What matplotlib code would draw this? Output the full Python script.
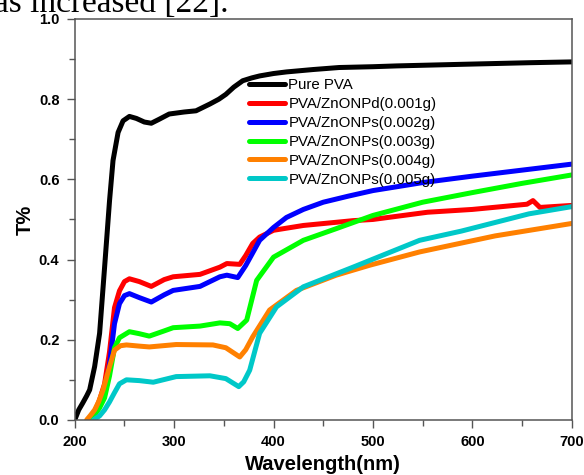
import matplotlib.pyplot as plt
from matplotlib.ticker import MultipleLocator

# values (wavelength nm, transmittance)
wl_pva = [200, 204, 208, 212, 215, 220, 225, 230, 235, 238.5, 243.6, 248.6, 255, 262, 270, 277, 285, 295,
          310, 322, 336, 345, 352, 360, 369, 378, 386, 400, 413, 440, 466, 500, 524, 590, 658, 700]
t_pva = [0.0, 0.025, 0.042, 0.06, 0.075, 0.133, 0.216, 0.38, 0.547, 0.647, 0.717, 0.746, 0.757, 0.752, 0.743,
         0.74, 0.75, 0.763, 0.768, 0.771, 0.788, 0.80, 0.812, 0.83, 0.846, 0.853, 0.858, 0.864, 0.868, 0.874,
         0.879, 0.881, 0.883, 0.887, 0.891, 0.893]

wl_001 = [215, 220, 225, 230, 235, 240, 245, 250, 255, 265, 277, 290, 299, 326, 346, 353, 366, 372, 379, 386,
          400, 430, 480, 500, 555, 600, 655, 661, 668, 700]
t_001 = [0.0, 0.02, 0.05, 0.09, 0.17, 0.28, 0.322, 0.345, 0.352, 0.345, 0.333, 0.35, 0.357, 0.363, 0.381,
         0.39, 0.388, 0.41, 0.44, 0.456, 0.473, 0.485, 0.497, 0.50, 0.518, 0.525, 0.538, 0.547, 0.53, 0.535]

wl_002 = [216, 220, 225, 230, 235, 240, 245, 250, 255, 265, 277, 290, 299, 326, 346, 353, 364, 372, 386, 400,
          413, 430, 450, 475, 500, 550, 600, 650, 700]
t_002 = [0.0, 0.015, 0.04, 0.065, 0.14, 0.24, 0.29, 0.31, 0.315, 0.305, 0.294, 0.312, 0.323, 0.333, 0.357,
         0.361, 0.355, 0.385, 0.448, 0.48, 0.505, 0.525, 0.543, 0.558, 0.572, 0.592, 0.608, 0.623, 0.638]

wl_003 = [216, 220, 225, 230, 235, 240, 245, 255, 265, 275, 290, 299, 326, 346, 356, 364, 373, 383, 400, 430,
          463, 500, 550, 600, 650, 700]
t_003 = [0.0, 0.012, 0.03, 0.055, 0.11, 0.18, 0.205, 0.22, 0.215, 0.209, 0.222, 0.23, 0.234, 0.242, 0.24,
         0.228, 0.249, 0.348, 0.406, 0.448, 0.477, 0.51, 0.543, 0.567, 0.59, 0.611]

wl_004 = [212, 216, 220, 224, 228.5, 235, 240, 246, 252, 265, 275, 302, 339, 352, 366, 372, 379, 396, 423,
          463, 497, 547, 623, 700]
t_004 = [0.0, 0.012, 0.025, 0.045, 0.075, 0.133, 0.174, 0.185, 0.187, 0.184, 0.182, 0.188, 0.187, 0.18,
         0.157, 0.175, 0.207, 0.274, 0.323, 0.361, 0.386, 0.419, 0.459, 0.49]

wl_005 = [219, 225, 230, 235, 240, 245, 252, 265, 279, 302, 336, 352, 365, 370, 376, 386, 403, 430, 480, 520,
          547, 589, 657, 700]
t_005 = [0.0, 0.01, 0.025, 0.045, 0.068, 0.09, 0.10, 0.098, 0.094, 0.108, 0.11, 0.103, 0.083, 0.095, 0.124,
         0.216, 0.282, 0.332, 0.381, 0.421, 0.448, 0.471, 0.514, 0.532]

labels = ["Pure PVA", "PVA/ZnONPd(0.001g)", "PVA/ZnONPs(0.002g)", "PVA/ZnONPs(0.003g)",
          "PVA/ZnONPs(0.004g)", "PVA/ZnONPs(0.005g)"]
colors = ["black", "#ff0000", "#0000ff", "#00ff00", "#ff8000", "#00c8c8"]

plt.rcParams['font.family'] = ['Liberation Sans', 'DejaVu Sans']

fig = plt.figure(figsize=(5.84, 4.75), dpi=100)
ax = fig.add_axes([0.128, 0.116, 0.851, 0.844])

series = [(wl_pva, t_pva), (wl_001, t_001), (wl_002, t_002), (wl_003, t_003), (wl_004, t_004), (wl_005, t_005)]
for (x, y), lab, c in zip(series, labels, colors):
    ax.plot(x, y, color=c, lw=3.6, label=lab, solid_joinstyle='round', solid_capstyle='round')

ax.set_xlim(200, 700)
ax.set_ylim(0, 1.0)
ax.xaxis.set_major_locator(MultipleLocator(100))
ax.xaxis.set_minor_locator(MultipleLocator(50))
ax.yaxis.set_major_locator(MultipleLocator(0.2))
ax.yaxis.set_minor_locator(MultipleLocator(0.1))
ax.tick_params(which='major', direction='out', length=6, width=1, color='#555555', pad=5)
ax.tick_params(which='minor', direction='out', length=4, width=1, color='#555555')
for s in ax.spines.values():
    s.set_color('#555555')
    s.set_linewidth(1.1)
for lab in ax.get_xticklabels() + ax.get_yticklabels():
    lab.set_fontweight('bold')
    lab.set_fontsize(10.5)

ax.set_xlabel("Wavelength(nm)", fontsize=14.5, fontweight='bold', labelpad=4)
ax.set_ylabel("T%", fontsize=14.5, fontweight='bold', labelpad=3)

ax.legend(loc='upper left', bbox_to_anchor=(0.35, 0.853), frameon=False, fontsize=10.8,
          handlelength=2.45, handletextpad=0.2, labelspacing=0.33, borderpad=0, borderaxespad=0)

# clipped caption text from the page above the figure
fig.text(-0.01, 1 - 12 / 475, "as increased [22].", family='Liberation Serif', fontsize=24, va='baseline')

fig.savefig("out.png", dpi=100)
